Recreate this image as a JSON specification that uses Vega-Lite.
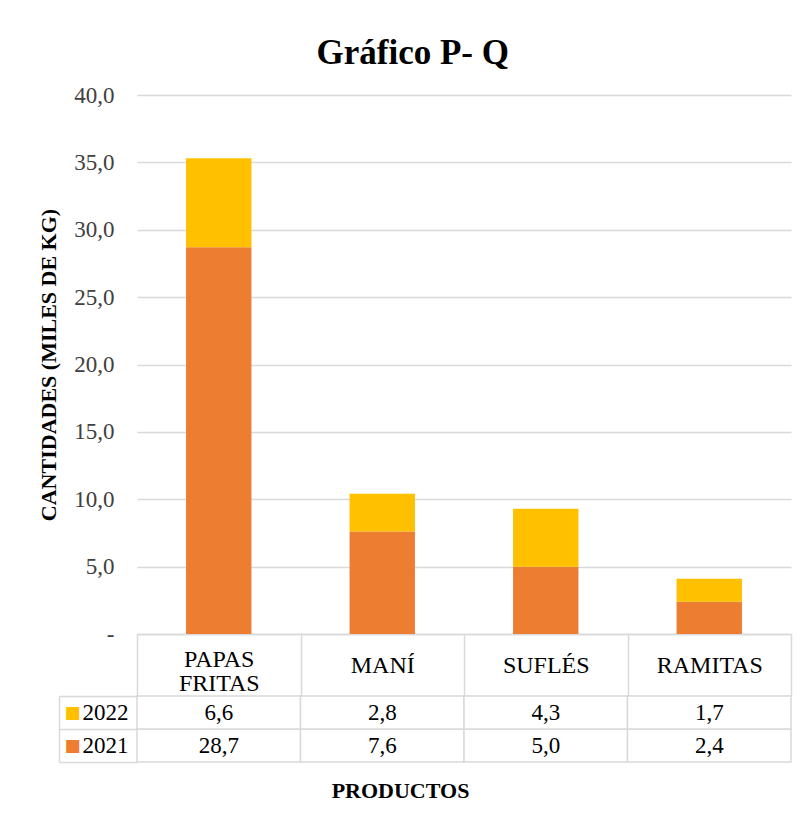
{
  "$schema": "https://vega.github.io/schema/vega-lite/v6.json",
  "padding": {"left": 37, "top": 36, "right": 5, "bottom": 5},
  "background": "white",
  "datasets": {
    "prod": [
      {"producto": "PAPAS FRITAS", "anio": "2021", "valor": 28.7},
      {"producto": "PAPAS FRITAS", "anio": "2022", "valor": 6.6},
      {"producto": "MANÍ", "anio": "2021", "valor": 7.6},
      {"producto": "MANÍ", "anio": "2022", "valor": 2.8},
      {"producto": "SUFLÉS", "anio": "2021", "valor": 5.0},
      {"producto": "SUFLÉS", "anio": "2022", "valor": 4.3},
      {"producto": "RAMITAS", "anio": "2021", "valor": 2.4},
      {"producto": "RAMITAS", "anio": "2022", "valor": 1.7}
    ]
  },
  "title": {
    "text": "Gráfico P- Q",
    "font": "Liberation Serif, Times New Roman, serif",
    "fontSize": 35,
    "fontWeight": "bold",
    "color": "#000000",
    "anchor": "middle",
    "offset": 13,
    "dx": -2
  },
  "bounds": "flush",
  "spacing": 62,
  "vconcat": [
    {
      "width": 654,
      "height": 539,
      "data": {"name": "prod"},
      "mark": {"type": "bar"},
      "encoding": {
        "x": {
          "field": "producto",
          "type": "nominal",
          "sort": ["PAPAS FRITAS", "MANÍ", "SUFLÉS", "RAMITAS"],
          "scale": {"paddingInner": 0.6, "paddingOuter": 0.3},
          "axis": {
            "title": null,
            "labels": false,
            "ticks": false,
            "domainColor": "#D9D9D9",
            "domainWidth": 1.5
          }
        },
        "y": {
          "field": "valor",
          "type": "quantitative",
          "stack": "zero",
          "scale": {"domain": [0, 40]},
          "axis": {
            "title": "CANTIDADES (MILES DE KG)",
            "titleFont": "Liberation Serif, Times New Roman, serif",
            "titleFontSize": 22,
            "titleFontWeight": "bold",
            "titleColor": "#000000",
            "titlePadding": 13,
            "values": [0, 5, 10, 15, 20, 25, 30, 35, 40],
            "format": ".1f",
            "labelExpr": "datum.value === 0 ? '-' : datum.label",
            "labelFont": "Liberation Serif, Times New Roman, serif",
            "labelFontSize": 23,
            "labelColor": "#404040",
            "labelPadding": 23,
            "domain": false,
            "ticks": false,
            "gridColor": "#D9D9D9",
            "gridWidth": 1.5
          }
        },
        "color": {
          "field": "anio",
          "type": "nominal",
          "scale": {"domain": ["2021", "2022"], "range": ["#ED7D31", "#FFC000"]},
          "legend": null
        },
        "order": {"field": "anio", "sort": "ascending"}
      }
    },
    {
      "width": 654,
      "height": 66,
      "data": {"name": "prod"},
      "resolve": {"axis": {"y": "independent", "x": "independent"}},
      "layer": [
        {
          "mark": {"type": "rect", "fill": "#FFFFFF", "stroke": "#D9D9D9", "strokeWidth": 1.5},
          "encoding": {
            "x": {
              "field": "producto",
              "type": "nominal",
              "sort": ["PAPAS FRITAS", "MANÍ", "SUFLÉS", "RAMITAS"],
              "scale": {"padding": 0},
              "axis": {
                "title": "PRODUCTOS",
                "titleFont": "Liberation Serif, Times New Roman, serif",
                "titleFontSize": 22,
                "titleFontWeight": "bold",
                "titleColor": "#000000",
                "titlePadding": 18,
                "titleX": 263,
                "labels": false,
                "ticks": false,
                "domain": false
              }
            },
            "y": {
              "field": "anio",
              "type": "nominal",
              "sort": ["2022", "2021"],
              "scale": {"padding": 0},
              "axis": {
                "title": null,
                "labelFont": "Liberation Serif, Times New Roman, serif",
                "labelFontSize": 23,
                "labelColor": "#000000",
                "labelPadding": -69,
                "tickBand": "extent",
                "tickSize": 78,
                "tickColor": "#D9D9D9",
                "tickWidth": 1.5,
                "domain": false
              }
            }
          }
        },
        {
          "mark": {"type": "text", "font": "Liberation Serif, Times New Roman, serif", "fontSize": 23, "color": "#000000"},
          "encoding": {
            "x": {
              "field": "producto",
              "type": "nominal",
              "sort": ["PAPAS FRITAS", "MANÍ", "SUFLÉS", "RAMITAS"],
              "axis": {
                "title": null,
                "orient": "top",
                "labelAngle": 0,
                "labelExpr": "split(datum.label, ' ')",
                "labelFont": "Liberation Serif, Times New Roman, serif",
                "labelFontSize": 24,
                "labelColor": "#000000",
                "labelBaseline": "middle",
                "labelLineHeight": 24,
                "labelPadding": {"condition": {"test": "datum.value === 'PAPAS FRITAS'", "value": -25}, "value": -31},
                "labelLimit": 300,
                "tickBand": "extent",
                "tickSize": 62,
                "tickColor": "#D9D9D9",
                "tickWidth": 1.5,
                "domain": false
              }
            },
            "y": {
              "field": "anio",
              "type": "nominal",
              "sort": ["2022", "2021"],
              "axis": {
                "title": null,
                "orient": "left",
                "offset": 78,
                "labelExpr": "'■'",
                "labelFont": "DejaVu Sans",
                "labelFontSize": 17,
                "labelAlign": "left",
                "labelPadding": -5,
                "labelColor": {"condition": {"test": "datum.value === '2022'", "value": "#FFC000"}, "value": "#ED7D31"},
                "ticks": false,
                "domain": true,
                "domainColor": "#D9D9D9",
                "domainWidth": 1.5
              }
            },
            "text": {"field": "valor", "type": "quantitative", "format": ".1f"}
          }
        }
      ]
    }
  ],
  "config": {
    "locale": {
      "number": {"decimal": ",", "thousands": ".", "grouping": [3], "currency": ["$", ""]}
    },
    "view": {"stroke": null}
  }
}
